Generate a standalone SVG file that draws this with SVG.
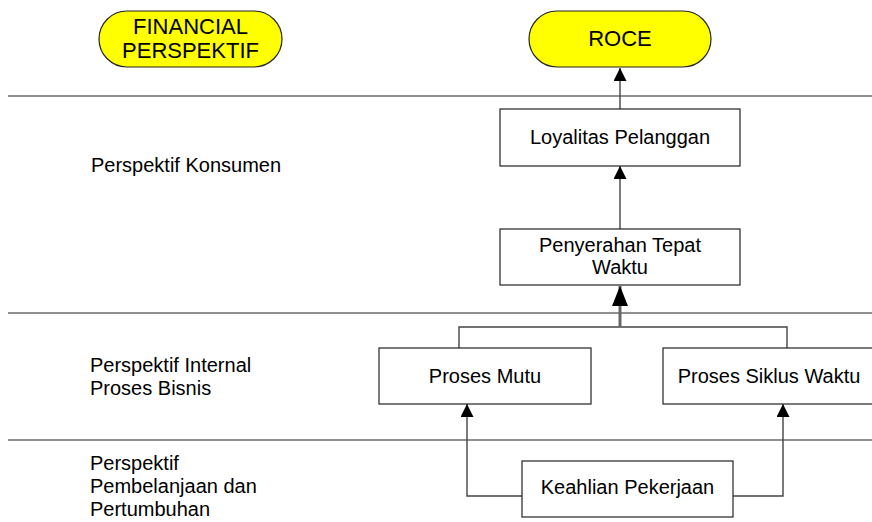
<svg xmlns="http://www.w3.org/2000/svg" width="872" height="522" viewBox="0 0 872 522">
<defs>
<style>
text{font-family:"Liberation Sans",Arial,sans-serif;fill:#000}
.lbl{font-size:20px}
.pill{fill:#ffff00;stroke:#222;stroke-width:1.2}
.pt{font-size:22px;text-anchor:middle}
.box{fill:#fff;stroke:#222;stroke-width:1.2}
.bt{font-size:20px;text-anchor:middle}
.sep{stroke:#222;stroke-width:1.2;fill:none}
.con{stroke:#444;stroke-width:1.4;fill:none}
</style>
<marker id="ah" viewBox="0 0 13 13" refX="13" refY="6.5" markerWidth="13" markerHeight="13" markerUnits="userSpaceOnUse" orient="auto">
<path d="M0,0L13,6.5L0,13z" fill="#000"/>
</marker>
<marker id="ahb" viewBox="0 0 20 16" refX="20" refY="8" markerWidth="20" markerHeight="16" markerUnits="userSpaceOnUse" orient="auto">
<path d="M0,0L20,8L0,16z" fill="#000"/>
</marker>
</defs>
<rect width="872" height="522" fill="#fff"/>

<g id="separators">
<line class="sep" x1="8" y1="96" x2="872" y2="96"/>
<line class="sep" x1="8" y1="313" x2="872" y2="313"/>
<line class="sep" x1="8" y1="440" x2="872" y2="440"/>
</g>

<g id="lane-labels">
<text class="lbl" x="91" y="172">Perspektif Konsumen</text>
<text class="lbl" x="90" y="372">Perspektif Internal</text>
<text class="lbl" x="90" y="395">Proses Bisnis</text>
<text class="lbl" x="90" y="470">Perspektif</text>
<text class="lbl" x="90" y="493">Pembelanjaan dan</text>
<text class="lbl" x="90" y="516">Pertumbuhan</text>
</g>

<g id="connectors">
<line class="con" x1="620" y1="109" x2="620" y2="68" marker-end="url(#ah)"/>
<line class="con" x1="620" y1="229" x2="620" y2="166" marker-end="url(#ah)"/>
<polyline class="con" points="459,348 459,327 787,327 787,348"/>
<line x1="620" y1="327" x2="620" y2="286" stroke="#666" stroke-width="3" marker-end="url(#ahb)"/>
<polyline class="con" points="522,496 467,496 467,404" marker-end="url(#ah)"/>
<polyline class="con" points="733,496 783,496 783,404" marker-end="url(#ah)"/>
</g>

<g id="financial">
<rect class="pill" x="99" y="11" width="183" height="56" rx="28" ry="28"/>
<text class="pt" x="190.5" y="34">FINANCIAL</text>
<text class="pt" x="190.5" y="58">PERSPEKTIF</text>
</g>

<g id="roce">
<rect class="pill" x="529" y="11" width="182" height="56" rx="28" ry="28"/>
<text class="pt" x="620" y="46">ROCE</text>
</g>

<g id="loyalitas">
<rect class="box" x="500" y="109" width="240" height="57"/>
<text class="bt" x="620" y="144">Loyalitas Pelanggan</text>
</g>

<g id="penyerahan">
<rect class="box" x="500" y="229" width="240" height="56"/>
<text class="bt" x="620" y="252">Penyerahan Tepat</text>
<text class="bt" x="620" y="274">Waktu</text>
</g>

<g id="proses-mutu">
<rect class="box" x="379" y="348" width="212" height="56"/>
<text class="bt" x="485" y="383">Proses Mutu</text>
</g>

<g id="proses-siklus">
<rect class="box" x="663" y="348" width="212" height="56"/>
<text class="bt" x="769" y="383">Proses Siklus Waktu</text>
</g>

<g id="keahlian">
<rect class="box" x="522" y="461" width="211" height="56"/>
<text class="bt" x="627.5" y="494">Keahlian Pekerjaan</text>
</g>
</svg>
